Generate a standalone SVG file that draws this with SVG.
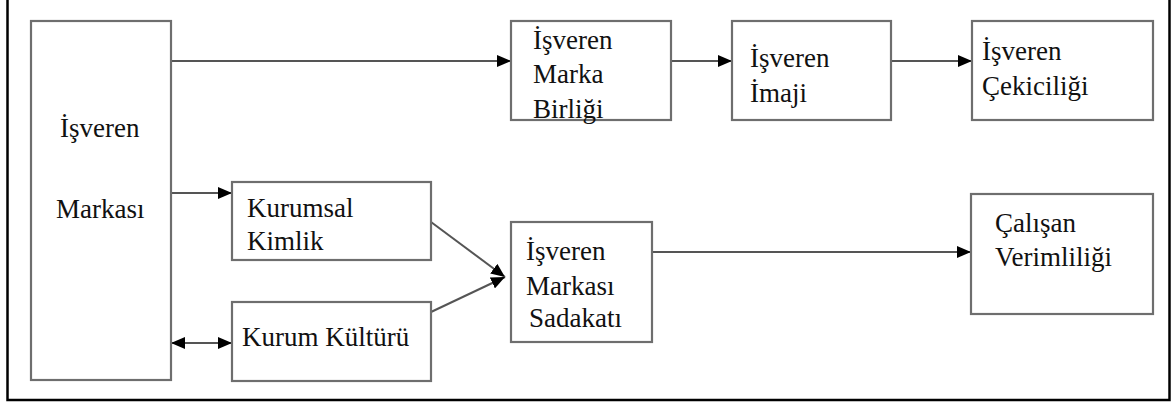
<svg xmlns="http://www.w3.org/2000/svg" width="1173" height="405" viewBox="0 0 1173 405">
  <style>
    .frame { fill: #fff; stroke: #000; stroke-width: 2.5; }
    .box { fill: #fff; stroke: #6e6e6e; stroke-width: 2.2; }
    text { font-family: "Liberation Serif", "Times New Roman", Times, "DejaVu Serif", "Noto Serif", FreeSerif, serif; font-size: 27px; fill: #111; }
    .edge { fill: none; stroke: #555; stroke-width: 2; }
  </style>
  <defs>
    <marker id="head" viewBox="0 0 14 12" refX="14" refY="6" markerWidth="14" markerHeight="12" markerUnits="userSpaceOnUse" orient="auto-start-reverse">
      <path d="M0,0 L14,6 L0,12 Z" fill="#000"/>
    </marker>
  </defs>

  <rect class="frame" x="7.5" y="-2" width="1162" height="402"/>

  <g id="connectors">
    <path class="edge" d="M171,61 H511" marker-end="url(#head)"/>
    <path class="edge" d="M671,61 H732" marker-end="url(#head)"/>
    <path class="edge" d="M891,61 H972" marker-end="url(#head)"/>
    <path class="edge" d="M171,193 H232" marker-end="url(#head)"/>
    <path class="edge" d="M171,343 H232" marker-start="url(#head)" marker-end="url(#head)"/>
    <path class="edge" d="M431,222 L505,277" marker-end="url(#head)"/>
    <path class="edge" d="M431,312 L505,277" marker-end="url(#head)"/>
    <path class="edge" d="M652,252 H971" marker-end="url(#head)"/>
  </g>

  <g id="isveren-markasi">
    <rect class="box" x="31" y="21" width="140" height="359"/>
    <text x="60" y="137">İşveren</text>
    <text x="56" y="218">Markası</text>
  </g>

  <g id="marka-birligi">
    <rect class="box" x="511" y="21" width="160" height="99"/>
    <text x="533" y="49">İşveren</text>
    <text x="533" y="83">Marka</text>
    <text x="533" y="118">Birliği</text>
  </g>

  <g id="isveren-imaji">
    <rect class="box" x="732" y="21" width="159" height="99"/>
    <text x="750" y="67">İşveren</text>
    <text x="750" y="102">İmaji</text>
  </g>

  <g id="isveren-cekiciligi">
    <rect class="box" x="972" y="21" width="181" height="99"/>
    <text x="982" y="60">İşveren</text>
    <text x="982" y="95">Çekiciliği</text>
  </g>

  <g id="kurumsal-kimlik">
    <rect class="box" x="232" y="182" width="199" height="78"/>
    <text x="247" y="217">Kurumsal</text>
    <text x="247" y="250">Kimlik</text>
  </g>

  <g id="kurum-kulturu">
    <rect class="box" x="232" y="302" width="199" height="79"/>
    <text x="242" y="346">Kurum Kültürü</text>
  </g>

  <g id="marka-sadakati">
    <rect class="box" x="511" y="222" width="141" height="120"/>
    <text x="526" y="260">İşveren</text>
    <text x="526" y="295">Markası</text>
    <text x="529" y="327">Sadakatı</text>
  </g>

  <g id="calisan-verimliligi">
    <rect class="box" x="971" y="194" width="182" height="120"/>
    <text x="995" y="232">Çalışan</text>
    <text x="995" y="266">Verimliliği</text>
  </g>
</svg>
